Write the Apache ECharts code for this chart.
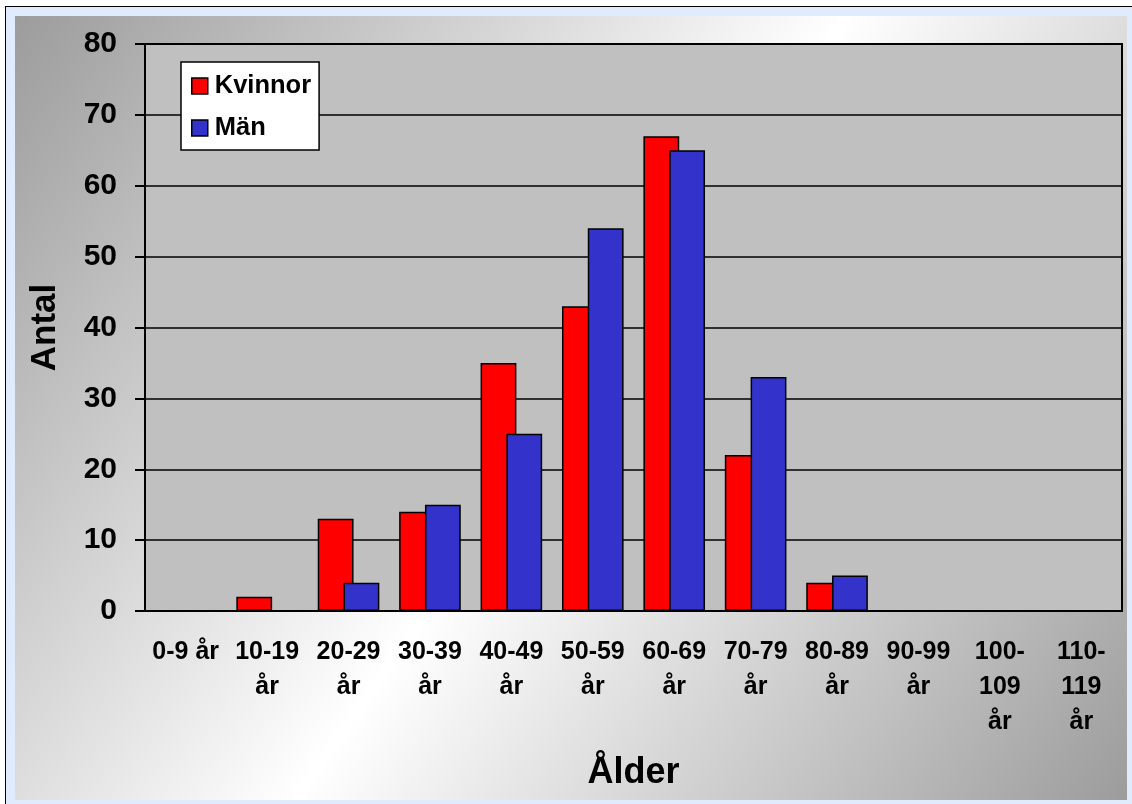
<!DOCTYPE html>
<html>
<head>
<meta charset="utf-8">
<script src="https://cdn.jsdelivr.net/npm/echarts@6/dist/echarts.min.js"></script>
<style>
  html, body { margin: 0; padding: 0; background: #ffffff; width: 1132px; height: 804px; overflow: hidden; }
  #frame { position: absolute; left: 5px; top: 6px; width: 1127px; height: 798px; border-left: 1.5px solid #000; border-top: 1.5px solid #000; background: #e0ecfd; box-sizing: border-box; }
  #chart { position: absolute; left: 15px; top: 16px; width: 1112px; height: 784px; }
</style>
</head>
<body>
<div id="frame"></div>
<div id="chart"></div>
<script>
const categories = ['0-9 år', '10-19\når', '20-29\når', '30-39\når', '40-49\når', '50-59\når', '60-69\når', '70-79\når', '80-89\når', '90-99\når', '100-\n109\når', '110-\n119\når'];
const kvinnor = [0, 2, 13, 14, 35, 43, 67, 22, 4, 0, 0, 0];
const man = [0, 0, 4, 15, 25, 54, 65, 33, 5, 0, 0, 0];
const yTicks = [0, 10, 20, 30, 40, 50, 60, 70, 80];

const FONT = '"Liberation Sans", Arial, sans-serif';
const chart = echarts.init(document.getElementById('chart'));
chart.setOption({
  backgroundColor: {
    type: 'linear', x: 0, y: 0, x2: 1, y2: 1,
    colorStops: [
      { offset: 0, color: '#9c9c9c' },
      { offset: 0.5, color: '#ffffff' },
      { offset: 1, color: '#9c9c9c' }
    ]
  },
  animation: false,
  grid: {
    left: 130, top: 28, width: 977, height: 567,
    show: true, backgroundColor: '#c0c0c0', borderColor: '#000', borderWidth: 2
  },
  legend: {
    orient: 'vertical', left: 166, top: 46,
    backgroundColor: '#ffffff', borderColor: '#000', borderWidth: 1.5,
    padding: [11, 8, 9, 10], itemGap: 16,
    itemWidth: 16, itemHeight: 16, icon: 'rect',
    itemStyle: { borderColor: '#000', borderWidth: 1.5 },
    textStyle: { fontFamily: FONT, fontWeight: 'bold', fontSize: 25.5, color: '#000', padding: [0, 0, 0, 2] },
    data: ['Kvinnor', 'Män']
  },
  xAxis: {
    type: 'category', data: categories,
    name: 'Ålder', nameLocation: 'middle', nameGap: 144,
    nameTextStyle: { fontFamily: FONT, fontWeight: 'bold', fontSize: 36, color: '#000' },
    axisLine: { show: true, lineStyle: { color: '#000', width: 2 } },
    axisTick: { show: false },
    axisLabel: { interval: 0, margin: 24, fontFamily: FONT, fontWeight: 'bold', fontSize: 25, lineHeight: 35, color: '#000', align: 'center' }
  },
  yAxis: {
    type: 'value', min: 0, max: 80, interval: 10,
    name: 'Antal', nameLocation: 'middle', nameGap: 82,
    nameTextStyle: { fontFamily: FONT, fontWeight: 'bold', fontSize: 35, color: '#000' },
    axisLine: { show: true, lineStyle: { color: '#000', width: 2 } },
    axisTick: { show: true, inside: false, length: 10, lineStyle: { color: '#000', width: 2 } },
    axisLabel: { margin: 28, fontFamily: FONT, fontWeight: 'bold', fontSize: 30, color: '#000',
      formatter: v => yTicks.includes(v) ? String(v) : '' },
    splitLine: { show: true, lineStyle: { color: '#000', width: 1.5 } }
  },
  series: [
    { name: 'Kvinnor', type: 'bar', data: kvinnor, barWidth: '44%', barGap: '-28%',
      itemStyle: { color: '#ff0000', borderColor: '#000', borderWidth: 1.5 } },
    { name: 'Män', type: 'bar', data: man, barWidth: '44%',
      itemStyle: { color: '#3333cc', borderColor: '#000', borderWidth: 1.5 } }
  ]
});
</script>
</body>
</html>
